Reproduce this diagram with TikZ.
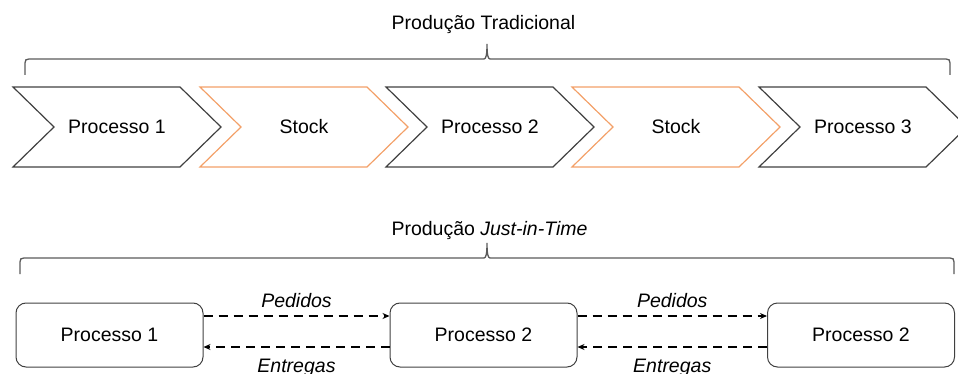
\documentclass[tikz,border=0pt]{standalone}
\usepackage{fontspec}
\setmainfont{Liberation Sans}
\usetikzlibrary{arrows.meta}
\definecolor{dk}{RGB}{64,64,64}
\definecolor{or}{RGB}{243,160,104}
\definecolor{br}{RGB}{90,90,90}
\tikzset{
  txt/.style={font=\fontsize{19.5}{23}\selectfont, inner sep=0pt},
  chev/.style={line width=1.2pt, line join=miter},
  procbox/.style={draw=dk, line width=1pt, rounded corners=10pt, minimum width=187pt, minimum height=64pt, txt},
  flow/.style={draw=black, line width=2pt, dash pattern=on 9pt off 6pt, -{Stealth[length=7pt,width=6pt]}},
  bracepath/.style={draw=br, line width=1.3pt}
}
\begin{document}
\begin{tikzpicture}[x=1pt,y=-1pt]
\useasboundingbox (0,0) rectangle (958,374);
\clip (0,0) rectangle (958,374);
% titles
\node[txt, anchor=base] (t1) at (483.5,30) {Produção Tradicional};
\node[txt, anchor=base] (t2) at (489.5,235) {Produção \textit{Just-in-Time}};
% braces
\coordinate (bl1) at (25,75);
\coordinate (br1) at (950,75);
\draw[bracepath] (bl1) -- (25,63) .. controls (25,60) and (26,59) .. (29,59) -- (484,59)
  .. controls (486,59) and (487,55) .. (487,44) .. controls (487,55) and (488,59) .. (490,59)
  -- (946,59) .. controls (949,59) and (950,60) .. (950,63) -- (br1);
\coordinate (bl2) at (20,274);
\coordinate (br2) at (954,274);
\draw[bracepath] (bl2) -- (20,262) .. controls (20,259) and (21,258) .. (24,258) -- (484,258)
  .. controls (486,258) and (487,254) .. (487,243) .. controls (487,254) and (488,258) .. (490,258)
  -- (950,258) .. controls (953,258) and (954,259) .. (954,262) -- (br2);
% chevrons
\foreach \x/\c/\t/\n in {13/dk/Processo 1/p1, 200/or/Stock/s1, 386/dk/Processo 2/p2, 572/or/Stock/s2, 759/dk/Processo 3/p3}{
  \draw[chev, draw=\c] (\x,87) -- (\x+167,87) -- (\x+208,127) -- (\x+167,167) -- (\x,167) -- (\x+41,127) -- cycle;
  \node[txt] (\n) at (\x+104,127) {\t};
}
% JIT boxes
\node[procbox] (b1) at (109.5,335) {Processo 1};
\node[procbox] (b2) at (483.5,335) {Processo 2};
\node[procbox] (b3) at (861,335) {Processo 2};
% flows
\draw[flow] ([yshift=19pt]b1.east) -- ([yshift=19pt]b2.west) node[txt, midway, anchor=base, yshift=9pt] (l1) {\textit{Pedidos}};
\draw[flow] ([yshift=-12pt]b2.west) -- ([yshift=-12pt]b1.east) node[txt, midway, anchor=base, yshift=-25pt] (l2) {\textit{Entregas}};
\draw[flow] ([yshift=19pt]b2.east) -- ([yshift=19pt]b3.west) node[txt, midway, anchor=base, yshift=9pt] (l3) {\textit{Pedidos}};
\draw[flow] ([yshift=-12pt]b3.west) -- ([yshift=-12pt]b2.east) node[txt, midway, anchor=base, yshift=-25pt] (l4) {\textit{Entregas}};
\end{tikzpicture}
\end{document}
